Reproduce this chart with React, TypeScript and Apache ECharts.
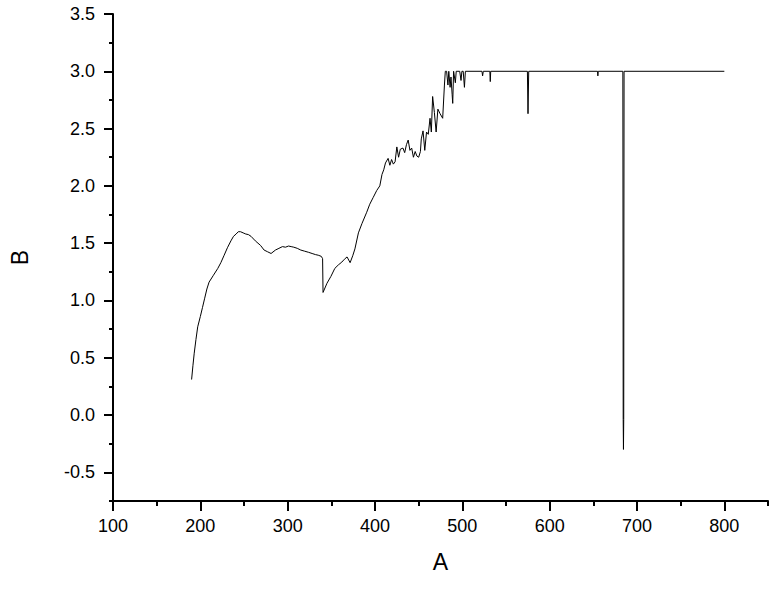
import React, { useEffect, useRef } from "react";
import * as echarts from "echarts";

const xValues = [
  190, 191.5, 193, 195, 197, 200, 202.5, 205, 207.5, 210, 215, 220, 223.5, 227, 231, 235, 238, 241, 243.5, 246,
  249, 252, 255, 258, 263, 266, 269, 273, 277, 281, 286, 290, 294, 297.5, 301, 304, 307, 311, 315, 319.5,
  324, 328, 332, 335, 338.5, 340, 340.5, 345, 349.5, 354, 358, 362, 365, 368, 371.5, 374.5, 377, 381, 385, 390.5,
  394, 398, 402, 405.5, 408, 410, 412, 415, 417, 419, 421, 423, 425, 427, 429, 432, 434, 436, 438, 440,
  442, 444, 446, 448, 450, 452, 453, 455, 457, 459, 461, 463, 464.5, 466, 468, 470, 472, 474.5, 477.5, 479.5,
  480.5, 482, 483.5, 484.5, 486, 487, 488.3, 489, 490, 492, 493, 495, 497, 498.5, 499.5, 501, 502.4, 503.5, 522.5, 523.2,
  524, 531.5, 532, 532.5, 574.5, 575.2, 576, 654.8, 655.2, 655.6, 683.8, 684.2, 684.5, 684.8, 685.2, 800,
];

const yValues = [
  0.31, 0.43, 0.54, 0.66, 0.77, 0.86, 0.94, 1.02, 1.1, 1.16, 1.22, 1.28, 1.33, 1.39, 1.46, 1.52, 1.56, 1.58, 1.6, 1.6,
  1.59, 1.58, 1.575, 1.56, 1.52, 1.5, 1.48, 1.44, 1.425, 1.41, 1.44, 1.455, 1.47, 1.465, 1.475, 1.47, 1.465, 1.455, 1.44, 1.43,
  1.42, 1.41, 1.4, 1.395, 1.385, 1.365, 1.07, 1.15, 1.21, 1.28, 1.31, 1.335, 1.36, 1.38, 1.33, 1.39, 1.45, 1.59, 1.67, 1.77,
  1.84, 1.9, 1.96, 2.0, 2.1, 2.14, 2.2, 2.24, 2.18, 2.23, 2.19, 2.21, 2.34, 2.25, 2.32, 2.33, 2.29, 2.36, 2.4, 2.31,
  2.33, 2.25, 2.3, 2.26, 2.25, 2.3, 2.41, 2.48, 2.31, 2.47, 2.45, 2.59, 2.47, 2.78, 2.64, 2.47, 2.67, 2.63, 2.59, 2.88,
  3.0, 3.0, 2.88, 3.0, 2.86, 2.95, 2.8, 2.72, 3.0, 2.9, 3.0, 3.0, 3.0, 2.92, 3.0, 3.0, 2.86, 3.0, 3.0, 2.96,
  3.0, 3.0, 2.91, 3.0, 3.0, 2.63, 3.0, 3.0, 2.96, 3.0, 3.0, -0.04, -0.3, -0.04, 3.0, 3.0,
];

const xMajorTicks = [100, 200, 300, 400, 500, 600, 700, 800];
const xMinorTicks = [150, 250, 350, 450, 550, 650, 750, 850];
const yMajorTicks = [-0.5, 0, 0.5, 1, 1.5, 2, 2.5, 3, 3.5];
const yMinorTicks = [-0.75, -0.25, 0.25, 0.75, 1.25, 1.75, 2.25, 2.75, 3.25];

const FONT = "'Liberation Sans', Arial, sans-serif";

export default function App() {
  const ref = useRef<HTMLDivElement>(null);

  useEffect(() => {
    if (!ref.current) return;
    const chart = echarts.init(ref.current, undefined, { renderer: "svg" });
    const data = xValues.map((x, i) => [x, yValues[i]]);
    const axisLineStyle = { color: "#000", width: 2 };
    chart.setOption({
      animation: false,
      backgroundColor: "#fff",
      grid: { left: 108, top: 14, width: 660, height: 487, containLabel: false },
      xAxis: [
        {
          type: "value",
          min: 100,
          max: 850,
          name: "A",
          nameLocation: "middle",
          nameGap: 49,
          nameTextStyle: { fontSize: 23, color: "#000", fontFamily: FONT },
          axisLine: { show: true, onZero: false, lineStyle: axisLineStyle },
          axisTick: { show: true, length: 10, customValues: xMajorTicks, lineStyle: { color: "#000", width: 2 } },
          axisLabel: {
            customValues: xMajorTicks,
            color: "#000",
            fontSize: 18,
            fontFamily: FONT,
            margin: 16,
          },
          splitLine: { show: false },
        },
        {
          type: "value",
          min: 100,
          max: 850,
          position: "bottom",
          axisLine: { show: false, onZero: false },
          axisTick: { show: true, length: 5, customValues: xMinorTicks, lineStyle: { color: "#000", width: 2 } },
          axisLabel: { show: false },
          splitLine: { show: false },
        },
      ],
      yAxis: [
        {
          type: "value",
          min: -0.75,
          max: 3.5,
          name: "B",
          nameLocation: "middle",
          nameGap: 82,
          nameTextStyle: { fontSize: 23, color: "#000", fontFamily: FONT },
          axisLine: { show: true, onZero: false, lineStyle: axisLineStyle },
          axisTick: { show: true, length: 9, customValues: yMajorTicks, lineStyle: { color: "#000", width: 2 } },
          axisLabel: {
            customValues: yMajorTicks,
            color: "#000",
            fontSize: 18,
            fontFamily: FONT,
            margin: 18,
            formatter: (v: number) => v.toFixed(1),
          },
          splitLine: { show: false },
        },
        {
          type: "value",
          min: -0.75,
          max: 3.5,
          position: "left",
          axisLine: { show: false, onZero: false },
          axisTick: { show: true, length: 4, customValues: yMinorTicks, lineStyle: { color: "#000", width: 2 } },
          axisLabel: { show: false },
          splitLine: { show: false },
        },
      ],
      series: [
        {
          type: "line",
          data,
          xAxisIndex: 0,
          yAxisIndex: 0,
          showSymbol: false,
          symbol: "none",
          lineStyle: { color: "#000", width: 1 },
          emphasis: { disabled: true },
        },
      ],
    });
    return () => chart.dispose();
  }, []);

  return (
    <div
      ref={ref}
      style={{ position: "fixed", left: 0, top: 0, width: 781, height: 594, background: "#fff" }}
    />
  );
}
